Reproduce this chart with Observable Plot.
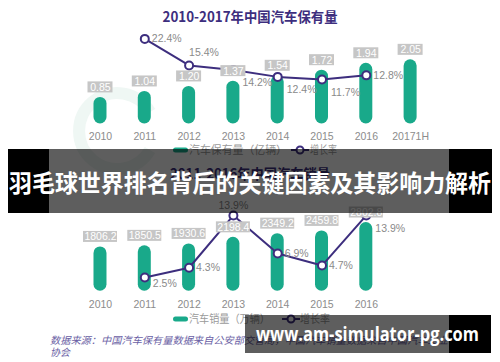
<!DOCTYPE html>
<html>
<head>
<meta charset="utf-8">
<script src="https://cdn.jsdelivr.net/npm/d3@7"></script>
<script src="https://cdn.jsdelivr.net/npm/@observablehq/plot@0.6"></script>
<style>
  html, body { margin: 0; padding: 0; background: #fff; }
  #wrap { position: relative; width: 500px; height: 362px; overflow: hidden; background: #fff; }
  #wrap > * { position: absolute; left: 0; }
</style>
</head>
<body>
<div id="wrap"></div>
<script>
// ---------- data ----------
const stockYears = ["2010", "2011", "2012", "2013", "2014", "2015", "2016", "20171H"];
const stockValues = [0.85, 1.04, 1.20, 1.37, 1.54, 1.72, 1.94, 2.05];
const stockGrowthYears = ["2011", "2012", "2013", "2014", "2015", "2016"];
const stockGrowth = [22.4, 15.4, 14.2, 12.4, 11.7, 12.8];

const salesYears = ["2010", "2011", "2012", "2013", "2014", "2015", "2016"];
const salesValues = [1806.2, 1850.5, 1930.6, 2198.4, 2349.2, 2459.8, 2802.8];
const salesGrowthYears = ["2011", "2012", "2013", "2014", "2015", "2016"];
const salesGrowth = [2.5, 4.3, 13.9, 6.9, 4.7, 13.9];

const title1 = "2010-2017年中国汽车保有量";
const title2 = "2011-2016年中国汽车销量";
const legend1 = ["汽车保有量（亿辆）", "增长率"];
const legend2 = ["汽车销量（万辆）", "增长率"];
const sourceLines = ["数据来源：中国汽车保有量数据来自公安部交管局，中国汽车销量数据来自中国汽车工业", "协会"];
const bannerText = "羽毛球世界排名背后的关键因素及其影响力解析";
const watermarkText = "www.am-simulator-pg.com";

// ---------- style ----------
const GREEN = "#19a98a";
const PURPLE = "#3d2e7e";
const BOX = "#c6c6c6";
const LABEL = "#8a8a8a";
const NUMFONT = "'Liberation Sans', Arial, sans-serif";
const CJK = "'Noto Sans CJK SC', sans-serif";

// label placement rules for the growth labels (presentation only)
const place1 = ["r", "ar", "b", "b", "b", "r"];
const place2 = ["rb", "r", "a", "r", "r", "b"];
const placeOpts = {
  r:  {textAnchor: "start", dx: 7, dy: 0},
  ar: {textAnchor: "start", dx: 0, dy: -13},
  b:  {textAnchor: "start", dx: 9, dy: 13},
  rb: {textAnchor: "start", dx: 8, dy: 6},
  a:  {textAnchor: "middle", dx: 0, dy: -10}
};

function panel({years, values, gYears, growth, places, yMax, pctMax, fmt, boxW, height, mL, mR, mT, mB}) {
  const bars = years.map((year, i) => ({year, value: values[i]}));
  const k = yMax / pctMax;
  const g = gYears.map((year, i) => ({year, pct: growth[i], place: places[i]}));
  const gy = d => d.pct * k;
  const half = boxW / 2 - 6.5;
  const pctTexts = Object.keys(placeOpts).map(p =>
    Plot.text(g.filter(d => d.place === p), {
      x: "year", y: gy, text: d => d.pct.toFixed(1) + "%",
      fill: LABEL, fontSize: 10.5, ...placeOpts[p]
    })
  );
  return Plot.plot({
    width: 500, height,
    marginLeft: mL, marginRight: mR, marginTop: mT, marginBottom: mB,
    style: {background: "transparent", color: "#8c8c8c", fontSize: "10.5px", fontFamily: NUMFONT, overflow: "visible"},
    x: {type: "band", domain: years, paddingInner: 0.7065, paddingOuter: 0.353, align: 0.5, round: false,
        tickSize: 0, tickPadding: 9, label: null},
    y: {domain: [0, yMax], axis: null},
    marks: [
      Plot.barY(bars, {x: "year", y: "value", fill: GREEN, rx: 6.5}),
      Plot.line(g, {x: "year", y: gy, stroke: PURPLE, strokeWidth: 2}),
      Plot.dot(g, {x: "year", y: gy, r: 4, fill: "white", stroke: PURPLE, strokeWidth: 2}),
      Plot.barY(bars, {x: "year", y1: "value", y2: "value", fill: BOX,
        insetLeft: -half, insetRight: -half, insetTop: -5.5, insetBottom: -5.5, dy: -10}),
      Plot.text(bars, {x: "year", y: "value", text: d => fmt(d.value), fill: "white", fontSize: 10.5, dy: -10}),
      ...pctTexts
    ]
  });
}

const wrap = document.getElementById("wrap");
const NS = "http://www.w3.org/2000/svg";
function el(parent, name, attrs, text) {
  const e = document.createElementNS(NS, name);
  for (const [a, v] of Object.entries(attrs)) e.setAttribute(a, v);
  if (text != null) e.textContent = text;
  parent.appendChild(e);
  return e;
}

// faint background logo (shape only)
const bg = document.createElementNS(NS, "svg");
bg.setAttribute("width", 500); bg.setAttribute("height", 362);
bg.style.top = "0px";
el(bg, "path", {d: "M150,112 A38,38 0 1,0 150,150", fill: "none", stroke: "#eff7f4", "stroke-width": 12});
wrap.appendChild(bg);

// top panel
const p1 = panel({years: stockYears, values: stockValues, gYears: stockGrowthYears, growth: stockGrowth,
  places: place1, yMax: 3.4, pctMax: 28.0, fmt: v => v.toFixed(2), boxW: 25,
  height: 145, mL: 77.85, mR: 67.75, mT: 17.1, mB: 21.5});
p1.style.top = "0px";
wrap.appendChild(p1);

// bottom panel
const p2 = panel({years: salesYears, values: salesValues, gYears: salesGrowthYears, growth: salesGrowth,
  places: place2, yMax: 3800, pctMax: 17.08, fmt: v => v.toFixed(1), boxW: 34,
  height: 130, mL: 77.85, mR: 112.05, mT: 7.6, mB: 29.3});
p2.style.top = "190px";
wrap.appendChild(p2);

// overlay: titles, legends, source, banners
const ov = document.createElementNS(NS, "svg");
ov.setAttribute("width", 500); ov.setAttribute("height", 362);
ov.style.top = "0px";
wrap.appendChild(ov);

el(ov, "text", {x: 250, y: 22, "text-anchor": "middle", "font-size": 14, "font-weight": "bold", fill: PURPLE,
  "font-family": CJK, textLength: 175, lengthAdjust: "spacingAndGlyphs"}, title1);
el(ov, "text", {x: 250, y: 179, "text-anchor": "middle", "font-size": 14, "font-weight": "bold", fill: PURPLE,
  "font-family": CJK, textLength: 160, lengthAdjust: "spacingAndGlyphs"}, title2);

function legend(y, labels, w1, x2, w2, mx) {
  el(ov, "rect", {x: 173, y: y - 2.5, width: 15, height: 5, rx: 2.5, fill: GREEN});
  el(ov, "text", {x: 189, y: y + 4, "font-size": 11, fill: "#9a9a9a", "font-family": CJK,
    textLength: w1, lengthAdjust: "spacingAndGlyphs"}, labels[0]);
  el(ov, "line", {x1: mx - 9, x2: mx + 9, y1: y, y2: y, stroke: PURPLE, "stroke-width": 2});
  el(ov, "circle", {cx: mx, cy: y, r: 3.5, fill: "white", stroke: PURPLE, "stroke-width": 2});
  el(ov, "text", {x: x2, y: y + 4, "font-size": 11, fill: "#9a9a9a", "font-family": CJK,
    textLength: w2, lengthAdjust: "spacingAndGlyphs"}, labels[1]);
}
legend(150, legend1, 98, 310, 27, 300);
legend(319, legend2, 81, 300, 30, 291);

el(ov, "text", {x: 50, y: 344, "font-size": 10, "font-style": "italic", fill: "#6b5fa5", "font-family": CJK,
  textLength: 398, lengthAdjust: "spacingAndGlyphs"}, sourceLines[0]);
el(ov, "text", {x: 50, y: 356, "font-size": 10, "font-style": "italic", fill: "#6b5fa5", "font-family": CJK}, sourceLines[1]);

// main banner
el(ov, "rect", {x: 8, y: 149, width: 41, height: 64, fill: "#000"});
el(ov, "rect", {x: 449, y: 149, width: 43, height: 64, fill: "#000"});
el(ov, "rect", {x: 49, y: 149, width: 400, height: 64, fill: "rgba(0,0,0,0.63)"});
el(ov, "text", {x: 9, y: 192, "font-size": 24, "font-weight": "bold", fill: "#fff", "font-family": CJK,
  textLength: 482, lengthAdjust: "spacingAndGlyphs"}, bannerText);

// watermark banner
el(ov, "rect", {x: 449, y: 315, width: 42, height: 38, fill: "#000"});
el(ov, "rect", {x: 245, y: 315, width: 204, height: 38, fill: "rgba(0,0,0,0.63)"});
el(ov, "text", {x: 256, y: 341, "font-size": 20, "font-weight": "bold", fill: "#fff",
  "font-family": "'Open Sans', 'DejaVu Sans', sans-serif", textLength: 223, lengthAdjust: "spacingAndGlyphs"}, watermarkText);
</script>
</body>
</html>
